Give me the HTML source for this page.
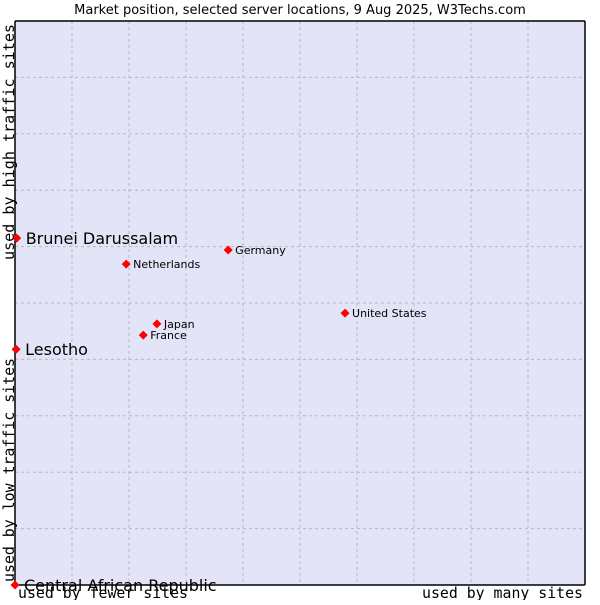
<!DOCTYPE html>
<html><head><meta charset="utf-8"><style>
body{margin:0;background:#fff;width:600px;height:600px;overflow:hidden}
svg text{font-family:"DejaVu Sans","Liberation Sans",sans-serif}
.mono{font-family:"DejaVu Sans Mono","Liberation Mono",monospace}
</style></head><body>
<svg id="chart" width="600" height="600">
<text x="300" y="14" text-anchor="middle" font-size="13">Market position, selected server locations, 9 Aug 2025, W3Techs.com</text>
<rect x="15" y="21" width="570" height="564" fill="#e3e4f8"/>
<g id="grid"></g>
<line x1="15" y1="21" x2="585" y2="21" stroke="#000" stroke-width="1.5"/>
<line x1="15" y1="21" x2="15" y2="585" stroke="#000" stroke-width="1.5"/>
<line x1="15" y1="585" x2="585" y2="585" stroke="#000" stroke-width="1.5"/>
<line x1="585" y1="21" x2="585" y2="585" stroke="#000" stroke-width="1.5"/>
<g id="points"></g>
<text class="mono" x="18" y="598" font-size="15" textLength="170" lengthAdjust="spacingAndGlyphs">used by fewer sites</text>
<text class="mono" x="422" y="598" font-size="15" textLength="161" lengthAdjust="spacingAndGlyphs">used by many sites</text>
<text class="mono" transform="translate(14,582) rotate(-90)" font-size="15" textLength="224" lengthAdjust="spacingAndGlyphs">used by low traffic sites</text>
<text class="mono" transform="translate(14,260) rotate(-90)" font-size="15" textLength="236" lengthAdjust="spacingAndGlyphs">used by high traffic sites</text>
</svg>
<script>
const countries=["Brunei Darussalam","Lesotho","Central African Republic","Netherlands","Germany","United States","Japan","France"];
const xValues=[0.003,0.002,0.0,0.195,0.374,0.579,0.249,0.225];
const yValues=[0.615,0.418,0.0,0.569,0.594,0.482,0.463,0.443];
const bigLabel=[true,true,true,false,false,false,false,false];
const L=15,R=585,T=21,B=585;
const xs=v=>L+v*(R-L), ys=v=>B-v*(B-T);
const NS="http://www.w3.org/2000/svg";
const g=document.getElementById('grid');
for(let i=1;i<10;i++){
 const x=L+i*(R-L)/10, y=T+i*(B-T)/10;
 const v=document.createElementNS(NS,'line');
 v.setAttribute('x1',x);v.setAttribute('x2',x);v.setAttribute('y1',T);v.setAttribute('y2',B);
 v.setAttribute('stroke','#b8b8b8');v.setAttribute('stroke-dasharray','3,3');
 
 
 g.appendChild(v);
 const h=document.createElementNS(NS,'line');
 h.setAttribute('x1',L);h.setAttribute('x2',R);h.setAttribute('y1',y);h.setAttribute('y2',y);
 h.setAttribute('stroke','#b8b8b8');h.setAttribute('stroke-dasharray','3,3');
 
 
 g.appendChild(h);
}
const p=document.getElementById('points');
countries.forEach((c,i)=>{
 const x=xs(xValues[i]), y=ys(yValues[i]);
 const d=document.createElementNS(NS,'path');
 d.setAttribute('d',`M${x-4.5},${y} L${x},${y-4.5} L${x+4.5},${y} L${x},${y+4.5} Z`);
 d.setAttribute('fill','#f00');
 
 
 p.appendChild(d);
 const t=document.createElementNS(NS,'text');
 t.setAttribute('x',x+(bigLabel[i]?9:7));
 t.setAttribute('y',y+(bigLabel[i]?6:4));
 t.setAttribute('font-size',bigLabel[i]?16:11);
 t.textContent=c;
 
 
 p.appendChild(t);
});
</script>
</body></html>
